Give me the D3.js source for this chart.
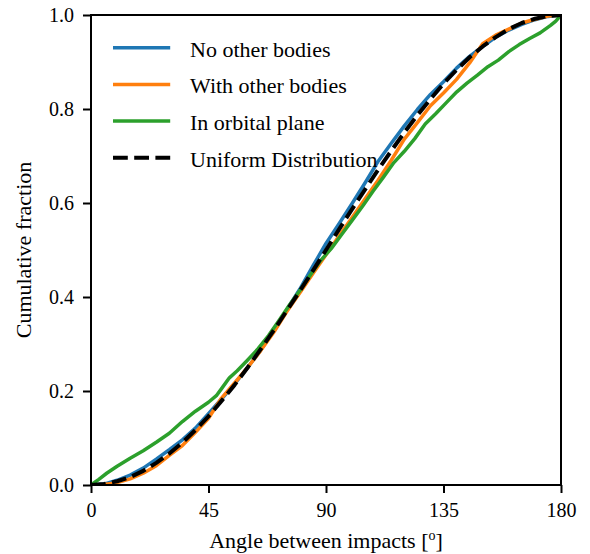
<!DOCTYPE html>
<html>
<head>
<meta charset="utf-8">
<script src="https://cdn.jsdelivr.net/npm/d3@7"></script>
<style>
  html, body { margin: 0; padding: 0; background: #fff; }
  svg { display: block; }
  svg text { font-family: "Liberation Serif", "Times New Roman", serif !important; fill: #000; }
</style>
</head>
<body>
<svg id="chart" width="590" height="554"></svg>
<script>
// ---- Data ----
const angles = [0,5,10,15,20,25,30,35,40,45,50,55,60,65,70,75,80,85,90,95,100,105,110,115,120,125,130,135,140,145,150,155,160,165,170,175,180];
const uniformFrac = [0,.002,.008,.017,.030,.047,.067,.090,.117,.146,.179,.213,.250,.289,.329,.371,.413,.456,.500,.544,.587,.629,.671,.711,.750,.787,.821,.854,.883,.910,.933,.953,.970,.983,.992,.998,1];
const noOtherFrac = [0,.002,.010,.021,.036,.055,.075,.096,.121,.152,.183,.215,.250,.287,.329,.373,.417,.466,.514,.556,.599,.643,.689,.727,.764,.799,.831,.858,.887,.912,.933,.953,.968,.980,.990,.997,1];
const withOtherFrac = [0,.001,.005,.013,.025,.041,.063,.084,.112,.142,.185,.217,.250,.286,.325,.369,.409,.450,.490,.530,.569,.609,.649,.691,.736,.771,.807,.834,.863,.898,.939,.957,.970,.983,.991,.998,1];
const orbitAngles = [0,3,6,10,15,20,25,30,35,40,45,48,50,53,56,60,64,68,72,76,80,84,88,92,96,100,104,108,112,116,120,124,128,132,136,140,144,148,152,156,160,164,168,172,176,178,180];
const orbitFrac = [0,.012,.025,.040,.057,.073,.091,.110,.135,.157,.176,.190,.205,.228,.243,.266,.290,.318,.350,.383,.414,.447,.478,.503,.533,.563,.593,.625,.655,.686,.710,.737,.768,.790,.813,.836,.855,.872,.890,.904,.922,.937,.950,.962,.978,.987,1];
const xTicks = [0,45,90,135,180];
const yTicks = [0,0.2,0.4,0.6,0.8,1.0];
const seriesNames = ["No other bodies","With other bodies","In orbital plane","Uniform Distribution"];

// ---- Layout ----
const L = 91, R = 561, T = 15, B = 485;
const svg = d3.select("#chart");
const x = d3.scaleLinear().domain([0,180]).range([L,R]);
const y = d3.scaleLinear().domain([0,1]).range([B,T]);

const series = [
  {name: seriesNames[0], xs: angles, ys: noOtherFrac, color: "#1f77b4", w: 3.5, dash: null},
  {name: seriesNames[1], xs: angles, ys: withOtherFrac, color: "#ff7f0e", w: 3.5, dash: null},
  {name: seriesNames[2], xs: orbitAngles, ys: orbitFrac, color: "#2ca02c", w: 3.5, dash: null},
  {name: seriesNames[3], xs: angles, ys: uniformFrac, color: "#000000", w: 4, dash: "14.8,6.4"}
];

svg.append("defs").append("clipPath").attr("id","plotclip")
  .append("rect").attr("x",L).attr("y",T).attr("width",R-L).attr("height",B-T);

const line = d3.line().x(d => x(d[0])).y(d => y(d[1]));
const g = svg.append("g").attr("clip-path","url(#plotclip)");
series.forEach(s => {
  const pts = s.xs.map((a,i) => [a, s.ys[i]]);
  g.append("path").datum(pts)
    .attr("d", line)
    .attr("fill","none")
    .attr("stroke", s.color)
    .attr("stroke-width", s.w)
    .attr("stroke-linejoin","round")
    .attr("stroke-dasharray", s.dash);
});

// ---- Axes ----
const xAxis = d3.axisBottom(x).tickValues(xTicks).tickFormat(d3.format("d")).tickSize(8).tickPadding(10);
const yAxis = d3.axisLeft(y).tickValues(yTicks).tickFormat(d3.format(".1f")).tickSize(8).tickPadding(9);
const gx = svg.append("g").attr("transform",`translate(0,${B})`).call(xAxis);
const gy = svg.append("g").attr("transform",`translate(${L},0)`).call(yAxis);
[gx, gy].forEach(a => {
  a.attr("font-family", null).attr("font-size", null);
  a.select(".domain").remove();
  a.selectAll(".tick line").attr("stroke","#000").attr("stroke-width",2);
  a.selectAll(".tick text")
    .style("font-family", '"Liberation Serif", "Times New Roman", serif')
    .style("font-size", "20px");
});

// frame
svg.append("rect").attr("x",L).attr("y",T).attr("width",R-L).attr("height",B-T)
  .attr("fill","none").attr("stroke","#000").attr("stroke-width",2);

// axis labels
const xl = svg.append("text").attr("x",(L+R)/2).attr("y",548)
  .attr("text-anchor","middle").style("font-size","22px");
xl.append("tspan").text("Angle between impacts [");
xl.append("tspan").style("font-size","14px").attr("dy",-8).text("o");
xl.append("tspan").attr("dy",8).text("]");

svg.append("text")
  .attr("transform",`translate(31,${(T+B)/2}) rotate(-90)`)
  .attr("text-anchor","middle").style("font-size","22px")
  .text("Cumulative fraction");

// ---- Legend ----
const leg = svg.append("g");
series.forEach((s,i) => {
  const ly = 47.7 + i*36.7;
  leg.append("line").attr("x1",113).attr("x2",170.2).attr("y1",ly).attr("y2",ly)
    .attr("stroke",s.color).attr("stroke-width",s.w).attr("stroke-dasharray",s.dash);
  leg.append("text").attr("x",190).attr("y",ly+9).style("font-size","22px").text(s.name);
});
</script>
</body>
</html>
